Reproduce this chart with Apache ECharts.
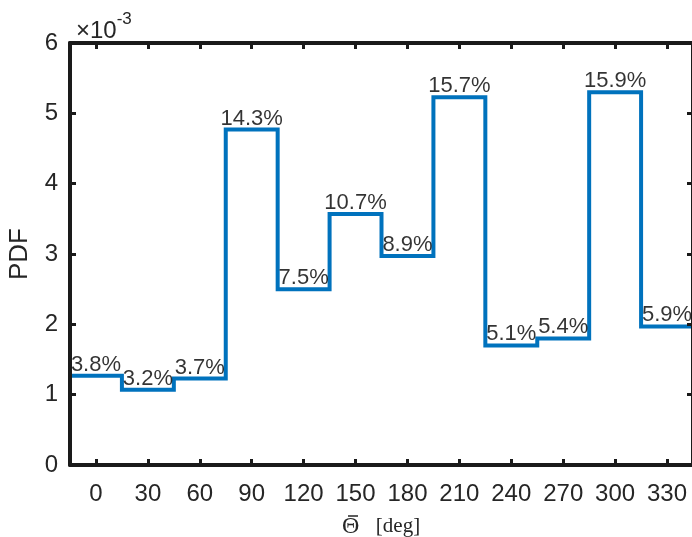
<!DOCTYPE html>
<html>
<head>
<meta charset="utf-8">
<script src="https://cdn.jsdelivr.net/npm/echarts@6/dist/echarts.min.js"></script>
<style>html,body{margin:0;padding:0;background:#fff;}#c{width:692px;height:537px;}</style>
</head>
<body>
<div id="c"></div>
<script>
// Bin centers (deg) and tick labels
const binCenters = [0, 30, 60, 90, 120, 150, 180, 210, 240, 270, 300, 330];
const binEdges = [-15, 15, 45, 75, 105, 135, 165, 195, 225, 255, 285, 315, 345];
const xTicks = [0, 30, 60, 90, 120, 150, 180, 210, 240, 270, 300, 330];
const yTicks = [0, 0.001, 0.002, 0.003, 0.004, 0.005, 0.006];
// PDF values
const pdfValues = [0.00127, 0.00107, 0.00123, 0.00477, 0.0025, 0.00357, 0.00297, 0.00523, 0.0017, 0.0018, 0.0053, 0.00197];
// Percent labels
const pctLabels = ['3.8%', '3.2%', '3.7%', '14.3%', '7.5%', '10.7%', '8.9%', '15.7%', '5.1%', '5.4%', '15.9%', '5.9%'];

const stairData = [[binEdges[0], 0]];
binEdges.forEach((e, i) => stairData.push([e, pdfValues[Math.min(i, pdfValues.length - 1)]]));
stairData.push([binEdges[binEdges.length - 1], 0]);

const labelData = binCenters.map((c, i) => ({ value: [c, pdfValues[i]], label: { formatter: pctLabels[i] } }));

const axisCol = '#1a1a1a';
const txtCol = '#262626';
const font = 'Liberation Sans, Arial, sans-serif';
const serif = 'Liberation Serif, DejaVu Serif, serif';

const chart = echarts.init(document.getElementById('c'));
chart.setOption({
  animation: false,
  backgroundColor: '#fff',
  title: {
    text: '{a|×10}{b|-3}',
    left: 71, top: 6,
    textStyle: {
      fontWeight: 'normal',
      rich: {
        a: { fontFamily: font, fontSize: 24, fontWeight: 'normal', color: txtCol, verticalAlign: 'bottom', lineHeight: 32 },
        b: { fontFamily: font, fontSize: 17, fontWeight: 'normal', color: txtCol, verticalAlign: 'top', lineHeight: 32, padding: [0, 0, 10, 0] }
      }
    }
  },
  grid: { left: 70, top: 43, width: 623, height: 422, containLabel: false, outerBoundsMode: 'none' },
  xAxis: [{
    type: 'value', min: -15, max: 345, position: 'bottom', z: 5,
    name: '{l| }{m| }{r| }\n{t|Θ}{s| }{d|[deg]}', nameLocation: 'middle', nameGap: 50,
    nameTextStyle: { align: 'center', rich: {
      l: { width: 6, height: 1.5, lineHeight: 2, fontSize: 2 },
      m: { width: 10, height: 1.5, lineHeight: 2, backgroundColor: txtCol, fontSize: 2 },
      r: { width: 63, height: 1.5, lineHeight: 2, fontSize: 2 },
      t: { fontFamily: serif, fontSize: 24, color: txtCol, lineHeight: 19, width: 17, align: 'left' },
      s: { width: 16, lineHeight: 19 },
      d: { fontFamily: serif, fontSize: 21, color: txtCol, lineHeight: 19, width: 46, align: 'left' }
    } },
    axisLine: { onZero: false, lineStyle: { color: axisCol, width: 4 } },
    axisTick: { inside: true, length: 6, customValues: xTicks, lineStyle: { color: axisCol, width: 3 } },
    axisLabel: { customValues: xTicks, fontFamily: font, fontSize: 24, color: txtCol, margin: 17 },
    splitLine: { show: false }
  }, {
    type: 'value', min: -15, max: 345, position: 'top', z: 5,
    axisLine: { onZero: false, lineStyle: { color: axisCol, width: 4 } },
    axisTick: { inside: true, length: 6, customValues: xTicks, lineStyle: { color: axisCol, width: 3 } },
    axisLabel: { show: false },
    splitLine: { show: false }
  }],
  yAxis: [{
    type: 'value', min: 0, max: 0.006, interval: 0.001, position: 'left', z: 5,
    name: 'PDF', nameLocation: 'middle', nameGap: 37,
    nameTextStyle: { fontFamily: font, fontSize: 26, color: txtCol },
    axisLine: { show: true, onZero: false, lineStyle: { color: axisCol, width: 4 } },
    axisTick: { show: true, inside: true, length: 6, lineStyle: { color: axisCol, width: 3 } },
    axisLabel: { fontFamily: font, fontSize: 24, color: txtCol, margin: 12,
      formatter: v => String(Math.round(v * 1000)) },
    splitLine: { show: false }
  }, {
    type: 'value', min: 0, max: 0.006, interval: 0.001, position: 'right', z: 5,
    axisLine: { show: true, onZero: false, lineStyle: { color: axisCol, width: 4 } },
    axisTick: { show: true, inside: true, length: 6, lineStyle: { color: axisCol, width: 3 } },
    axisLabel: { show: false },
    splitLine: { show: false }
  }],
  series: [{
    type: 'line', step: 'end', data: stairData, z: 2,
    symbol: 'none',
    lineStyle: { color: '#0072BD', width: 4, join: 'miter', cap: 'butt' }
  }, {
    type: 'scatter', data: labelData, z: 3,
    symbolSize: 0.1, itemStyle: { color: 'rgba(0,0,0,0)' },
    label: { show: true, position: 'top', distance: 0, fontFamily: font, fontSize: 22,
      color: '#000', textBorderWidth: 0 }
  }]
});
</script>
</body>
</html>
